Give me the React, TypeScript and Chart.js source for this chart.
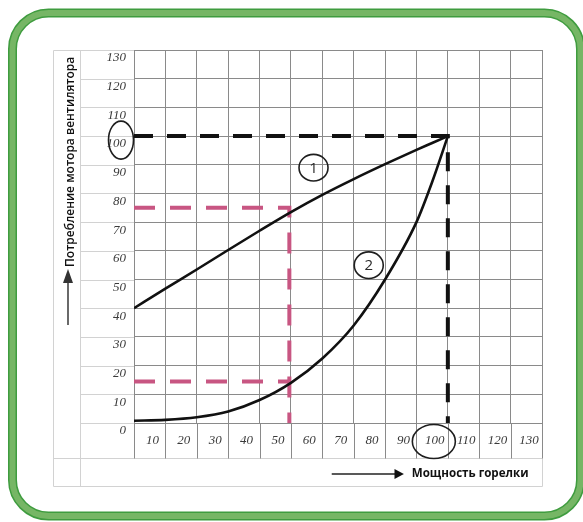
import React, { useEffect, useRef } from "react";
import { Chart, registerables } from "chart.js";

Chart.register(...registerables);

// ---- data ----
const loadPercent = [0, 10, 20, 30, 40, 50, 60, 70, 80, 90, 95, 100];
const fanCurve1 = [40, 46.8, 53.5, 60.3, 67, 73.5, 79.5, 85, 90.2, 95.2, 97.6, 100];
const fanCurve2 = [0.8, 1.1, 2, 4, 8, 14, 22.5, 34, 50, 70, 84, 100];

const blackGuideX = [0, 100, 100];
const blackGuideY = [100, 100, 0];
const pinkGuideX = [0, 49.5, 49.5];
const pinkGuideY = [75, 75, 0];
const pinkLowX = [0, 49.5];
const pinkLowY = [14.5, 14.5];

const axisMin = 0;
const axisMax = 130;
const axisStep = 10;

const curveMarkLabels = ["1", "2"];
const curveMarkX = [57.2, 74.8];
const curveMarkY = [89, 55];

const yTitle = "Потребление мотора вентилятора";
const xTitle = "Мощность горелки";

const toPoints = (xs: number[], ys: number[]) => xs.map((x, i) => ({ x, y: ys[i] }));

const GRID = "#8a8a8a";
const LIGHT = "#d2d2d2";
const PINK = "#c85682";

function roundRect(ctx: CanvasRenderingContext2D, x: number, y: number, w: number, h: number, r: number) {
  ctx.beginPath();
  ctx.moveTo(x + r, y);
  ctx.lineTo(x + w - r, y);
  ctx.arcTo(x + w, y, x + w, y + r, r);
  ctx.lineTo(x + w, y + h - r);
  ctx.arcTo(x + w, y + h, x + w - r, y + h, r);
  ctx.lineTo(x + r, y + h);
  ctx.arcTo(x, y + h, x, y + h - r, r);
  ctx.lineTo(x, y + r);
  ctx.arcTo(x, y, x + r, y, r);
  ctx.closePath();
}

const decorPlugin = {
  id: "decor",
  beforeDraw(chart: any) {
    const ctx: CanvasRenderingContext2D = chart.ctx;
    const W = chart.width;
    const H = chart.height;
    const { left, right, top, bottom } = chart.chartArea;
    const xs = chart.scales.x;
    const ys = chart.scales.y;
    ctx.save();
    ctx.fillStyle = "#ffffff";
    ctx.fillRect(0, 0, W, H);

    // green frame
    roundRect(ctx, 12.5, 13, W - 2.5 - 12.5, H - 6 - 13, 36);
    ctx.lineWidth = 9;
    ctx.strokeStyle = "#3f9c3f";
    ctx.stroke();
    ctx.lineWidth = 6;
    ctx.strokeStyle = "#76b665";
    ctx.stroke();

    const a = (v: number) => Math.round(v) + 0.5;
    const tableLeft = left - 81;
    const colDiv = left - 54;
    const rowDiv = bottom + 35;
    const tableBottom = bottom + 63;

    ctx.lineWidth = 1;
    ctx.strokeStyle = LIGHT;
    ctx.beginPath();
    ctx.moveTo(a(tableLeft), a(top));
    ctx.lineTo(a(tableLeft), a(tableBottom));
    ctx.moveTo(a(colDiv), a(top));
    ctx.lineTo(a(colDiv), a(tableBottom));
    ctx.moveTo(a(tableLeft), a(top));
    ctx.lineTo(a(left), a(top));
    ctx.moveTo(a(tableLeft), a(rowDiv));
    ctx.lineTo(a(right), a(rowDiv));
    ctx.moveTo(a(tableLeft), a(tableBottom));
    ctx.lineTo(a(right), a(tableBottom));
    ctx.moveTo(a(right), a(rowDiv));
    ctx.lineTo(a(right), a(tableBottom));
    for (let v = axisMin; v <= axisMax; v += axisStep) {
      const y = ys.getPixelForValue(v);
      ctx.moveTo(a(colDiv), a(y));
      ctx.lineTo(a(left), a(y));
    }
    ctx.stroke();

    ctx.strokeStyle = GRID;
    ctx.beginPath();
    for (let v = axisMin; v <= axisMax; v += axisStep) {
      const x = xs.getPixelForValue(v);
      ctx.moveTo(a(x), a(bottom));
      ctx.lineTo(a(x), a(rowDiv));
    }
    ctx.stroke();
    ctx.restore();
  },
  afterDraw(chart: any) {
    const ctx: CanvasRenderingContext2D = chart.ctx;
    const { left, bottom } = chart.chartArea;
    const xs = chart.scales.x;
    const ys = chart.scales.y;
    ctx.save();

    ctx.strokeStyle = "#1e1e1e";
    ctx.lineWidth = 1.6;
    ctx.fillStyle = "#2a2a2a";
    ctx.font = '15px "Open Sans"';
    ctx.textAlign = "center";
    ctx.textBaseline = "middle";
    curveMarkLabels.forEach((lab, i) => {
      const cx = xs.getPixelForValue(curveMarkX[i]);
      const cy = ys.getPixelForValue(curveMarkY[i]);
      ctx.beginPath();
      ctx.ellipse(cx, cy, 14.5, 13.3, 0, 0, Math.PI * 2);
      ctx.stroke();
      ctx.fillText(lab, cx, cy + 1);
    });

    ctx.beginPath();
    ctx.ellipse(left - 13, ys.getPixelForValue(100) + 4, 12.5, 19, 0, 0, Math.PI * 2);
    ctx.stroke();
    ctx.beginPath();
    ctx.ellipse(xs.getPixelForValue(100) - 14, bottom + 18.5, 21.5, 17, 0, 0, Math.PI * 2);
    ctx.stroke();

    // y title + arrow
    ctx.save();
    ctx.translate(left - 63, ys.getPixelForValue(91));
    ctx.rotate(-Math.PI / 2);
    ctx.fillStyle = "#111";
    ctx.font = '600 12px "Open Sans"';
    ctx.textAlign = "center";
    ctx.textBaseline = "middle";
    ctx.fillText(yTitle, 0, 0);
    ctx.restore();

    const ax = left - 66;
    ctx.strokeStyle = "#444";
    ctx.fillStyle = "#333";
    ctx.lineWidth = 1.6;
    ctx.beginPath();
    ctx.moveTo(ax, bottom - 98);
    ctx.lineTo(ax, bottom - 142);
    ctx.stroke();
    ctx.beginPath();
    ctx.moveTo(ax, bottom - 154);
    ctx.lineTo(ax - 5, bottom - 140);
    ctx.lineTo(ax + 5, bottom - 140);
    ctx.closePath();
    ctx.fill();

    // x title + arrow
    const ty = bottom + 51;
    ctx.strokeStyle = "#222";
    ctx.fillStyle = "#111";
    ctx.lineWidth = 1.4;
    ctx.beginPath();
    ctx.moveTo(xs.getPixelForValue(63), ty);
    ctx.lineTo(xs.getPixelForValue(83.5), ty);
    ctx.stroke();
    ctx.beginPath();
    ctx.moveTo(xs.getPixelForValue(86), ty);
    ctx.lineTo(xs.getPixelForValue(83), ty - 5);
    ctx.lineTo(xs.getPixelForValue(83), ty + 5);
    ctx.closePath();
    ctx.fill();
    ctx.font = 'bold 11.6px "Open Sans"';
    ctx.textAlign = "left";
    ctx.textBaseline = "middle";
    ctx.fillText(xTitle, xs.getPixelForValue(88.5), ty);

    ctx.restore();
  },
};

export default function App() {
  const ref = useRef<HTMLCanvasElement | null>(null);
  useEffect(() => {
    if (!ref.current) return;
    const tickFont = { family: '"Liberation Serif", serif', size: 13, style: "italic" as const };
    const chart = new Chart(ref.current, {
      type: "line",
      data: {
        datasets: [
          {
            label: "1",
            data: toPoints(loadPercent, fanCurve1),
            borderColor: "#111",
            borderWidth: 2.6,
            pointRadius: 0,
            cubicInterpolationMode: "monotone",
          },
          {
            label: "2",
            data: toPoints(loadPercent, fanCurve2),
            borderColor: "#111",
            borderWidth: 2.6,
            pointRadius: 0,
            cubicInterpolationMode: "monotone",
          },
          {
            label: "guide100",
            data: toPoints(blackGuideX, blackGuideY),
            borderColor: "#111",
            borderWidth: 4,
            borderDash: [19, 14],
            pointRadius: 0,
            tension: 0,
          },
          {
            label: "guide75",
            data: toPoints(pinkGuideX, pinkGuideY),
            borderColor: PINK,
            borderWidth: 4,
            borderDash: [21, 15],
            pointRadius: 0,
            tension: 0,
          },
          {
            label: "guide15",
            data: toPoints(pinkLowX, pinkLowY),
            borderColor: PINK,
            borderWidth: 4,
            borderDash: [21, 15],
            pointRadius: 0,
            tension: 0,
          },
        ],
      },
      options: {
        animation: false,
        responsive: false,
        layout: { padding: { left: 0, right: 41, top: 50, bottom: 0 } },
        plugins: { legend: { display: false }, tooltip: { enabled: false }, title: { display: false } },
        scales: {
          x: {
            type: "linear",
            min: axisMin,
            max: axisMax,
            afterFit: (s: any) => {
              s.height = 99;
            },
            ticks: {
              stepSize: axisStep,
              labelOffset: -13,
              padding: 10,
              maxRotation: 0,
              autoSkip: false,
              color: "#3a3a3a",
              font: tickFont,
              callback: (v: any) => (v === 0 ? "" : String(v)),
            },
            grid: { color: GRID, lineWidth: 1, drawTicks: false },
            border: { color: GRID },
          },
          y: {
            type: "linear",
            min: axisMin,
            max: axisMax,
            afterFit: (s: any) => {
              s.width = 134;
            },
            ticks: {
              stepSize: axisStep,
              labelOffset: 8,
              padding: 8,
              autoSkip: false,
              color: "#3a3a3a",
              font: tickFont,
            },
            grid: { color: GRID, lineWidth: 1, drawTicks: false },
            border: { color: GRID },
          },
        },
      },
      plugins: [decorPlugin],
    });
    return () => chart.destroy();
  }, []);
  return (
    <div style={{ position: "absolute", left: 0, top: 0, width: 583, height: 522 }}>
      <canvas ref={ref} width={583} height={522} style={{ display: "block" }} />
    </div>
  );
}
